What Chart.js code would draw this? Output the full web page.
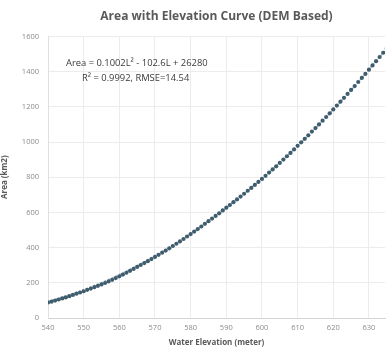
<!DOCTYPE html>
<html>
<head>
<meta charset="utf-8">
<script src="https://cdn.jsdelivr.net/npm/chart.js@4"></script>
<style>
  html, body { margin: 0; padding: 0; background: #fff; }
  #wrap { width: 389px; height: 348px; }
</style>
</head>
<body>
<div id="wrap"><canvas id="chart" width="389" height="348"></canvas></div>
<script>
// water elevation (m) and DEM area (km2)
const elevation = [
  540, 541, 542, 543, 544, 545, 546, 547, 548, 549,
  550, 551, 552, 553, 554, 555, 556, 557, 558, 559,
  560, 561, 562, 563, 564, 565, 566, 567, 568, 569,
  570, 571, 572, 573, 574, 575, 576, 577, 578, 579,
  580, 581, 582, 583, 584, 585, 586, 587, 588, 589,
  590, 591, 592, 593, 594, 595, 596, 597, 598, 599,
  600, 601, 602, 603, 604, 605, 606, 607, 608, 609,
  610, 611, 612, 613, 614, 615, 616, 617, 618, 619,
  620, 621, 622, 623, 624, 625, 626, 627, 628, 629,
  630, 631, 632, 633, 634, 635
];
const area = [
  88, 93, 99, 105, 111, 117, 124, 131, 138, 145,
  152, 160, 167, 175, 183, 191, 199, 208, 217, 227,
  237, 247, 257, 268, 279, 290, 301, 312, 323, 335,
  347, 359, 371, 383, 396, 409, 422, 435, 449, 463,
  477, 491, 505, 520, 535, 550, 565, 580, 595, 611,
  627, 642, 658, 674, 690, 706, 723, 739, 756, 773,
  790, 808, 826, 844, 862, 881, 900, 919, 938, 958,
  978, 998, 1018, 1038, 1059, 1079, 1100, 1121, 1142, 1163,
  1185, 1207, 1229, 1251, 1273, 1296, 1318, 1341, 1364, 1387,
  1411, 1435, 1459, 1483, 1507, 1531
];
// polynomial trendline, read at 5 m steps
const trendElevation = [540, 545, 550, 555, 560, 565, 570, 575, 580, 585, 590, 595, 600, 605, 610, 615, 620, 625, 630, 635];
const trendArea = [94, 125, 160, 201, 247, 297, 353, 413, 479, 550, 625, 706, 792, 882, 978, 1079, 1184, 1295, 1411, 1532];

const xTicks = [540, 550, 560, 570, 580, 590, 600, 610, 620, 630];
const yTicks = [0, 200, 400, 600, 800, 1000, 1200, 1400, 1600];
const eqLine1 = 'Area = 0.1002L\u00B2 - 102.6L + 26280';
const eqLine2 = 'R\u00B2 = 0.9992, RMSE=14.54';

const FONT = "'Open Sans', 'Liberation Sans', sans-serif";

// draws the trendline equation text
const equationText = {
  id: 'equationText',
  afterDatasetsDraw(chart) {
    const ctx = chart.ctx;
    ctx.save();
    ctx.fillStyle = '#3a3a3a';
    ctx.font = '9.4px ' + FONT;
    ctx.textBaseline = 'middle';
    ctx.fillText(eqLine1, 66, 63);
    ctx.fillText(eqLine2, 82, 78);
    ctx.restore();
  }
};

new Chart(document.getElementById('chart'), {
  type: 'scatter',
  data: {
    datasets: [
      {
        label: 'Area',
        data: elevation.map((e, i) => ({ x: e, y: area[i] })),
        backgroundColor: '#3f5d6d',
        borderColor: '#3f5d6d',
        pointRadius: 2.1,
        pointBorderWidth: 0,
        order: 1
      },
      {
        label: 'Poly. (Area)',
        type: 'line',
        data: trendElevation.map((e, i) => ({ x: e, y: trendArea[i] })),
        borderColor: '#9fb9c8',
        borderWidth: 1.6,
        borderDash: [2, 2],
        pointRadius: 0,
        cubicInterpolationMode: 'monotone',
        fill: false,
        order: 2
      }
    ]
  },
  options: {
    responsive: false,
    animation: false,
    layout: { padding: { left: 0, right: 0, top: 0, bottom: 0 } },
    plugins: {
      legend: { display: false },
      tooltip: { enabled: false },
      title: {
        display: true,
        fullSize: false,
        text: 'Area with Elevation Curve (DEM Based)',
        color: '#595959',
        font: { family: FONT, size: 12, weight: 'bold' },
        padding: { top: 9, bottom: 13 }
      }
    },
    scales: {
      x: {
        type: 'linear',
        min: 540,
        max: 634.5,
        afterBuildTicks: (s) => { s.ticks = xTicks.map(v => ({ value: v })); },
        afterFit: (s) => { s.height = 30; },
        grid: { color: '#ececec', drawTicks: false },
        border: { color: '#d4d4d4' },
        ticks: { color: '#8c8c8c', font: { family: FONT, size: 7.5 }, padding: 5, maxRotation: 0,
                 callback: (v) => String(v) },
        title: {
          display: true,
          text: 'Water Elevation (meter)',
          color: '#595959',
          font: { family: FONT, size: 8, weight: 'bold' },
          padding: { top: 2, bottom: 0 }
        }
      },
      y: {
        min: 0,
        max: 1600,
        afterBuildTicks: (s) => { s.ticks = yTicks.map(v => ({ value: v })); },
        afterFit: (s) => { s.width = 48; },
        grid: { color: '#ececec', drawTicks: false },
        border: { color: '#e0e0e0' },
        ticks: { color: '#8c8c8c', font: { family: FONT, size: 7.5 }, padding: 9,
                 callback: (v) => String(v) },
        title: {
          display: true,
          text: 'Area (km2)',
          color: '#595959',
          font: { family: FONT, size: 8, weight: 'bold' },
          padding: { top: 0, bottom: 0 }
        }
      }
    }
  },
  plugins: [equationText]
});
</script>
</body>
</html>
